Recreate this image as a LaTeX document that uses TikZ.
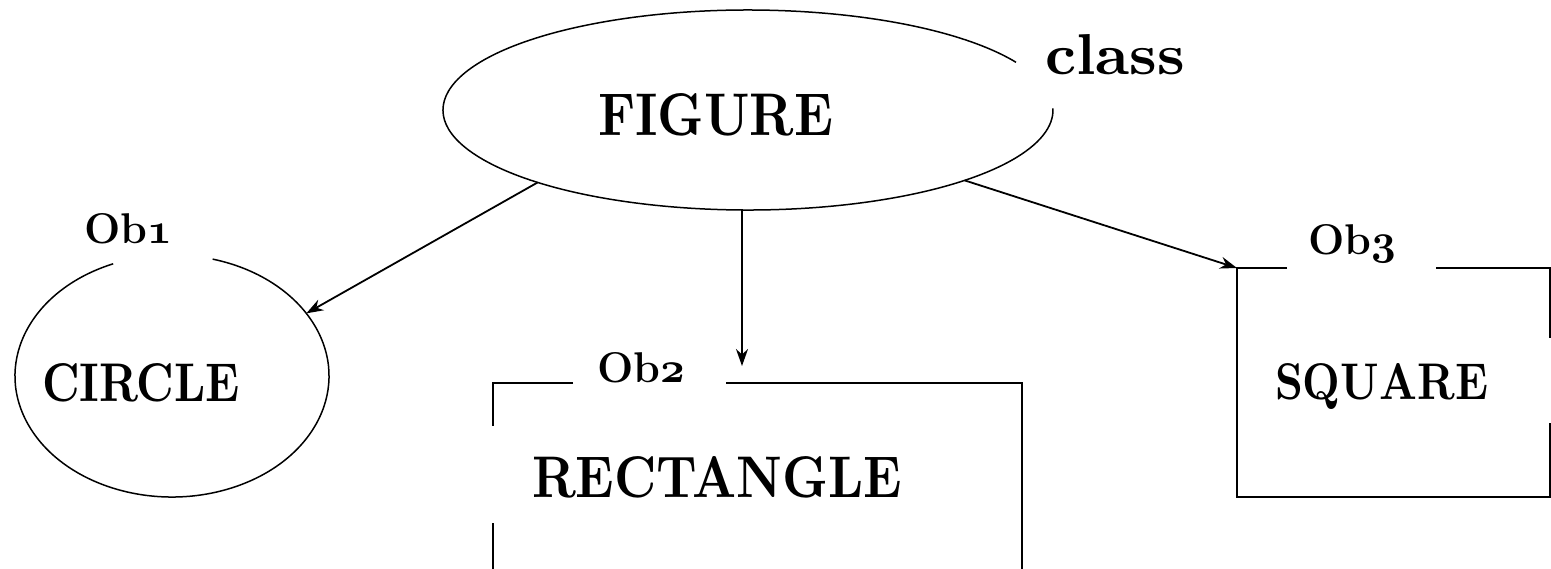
\documentclass[tikz,border=0pt]{standalone}
\usetikzlibrary{arrows.meta,shapes.geometric}
\DeclareFontFamily{OML}{myosf}{\skewchar\font127 }
\DeclareFontShape{OML}{myosf}{b}{it}{<->cmmib10}{}
\newcommand{\osdig}[1]{{\usefont{OML}{myosf}{b}{it}#1}}
\begin{document}
\begin{tikzpicture}[x=1pt,y=1pt,
  outline/.style={line width=1.5pt, draw=black},
  shapebox/.style={draw=none, inner sep=0pt, outer sep=0pt},
  lbl/.style={inner sep=0pt, outer sep=0pt, anchor=base west, font=\bfseries},
  oblbl/.style={inner sep=0pt, outer sep=0pt, anchor=base west, font=\fontsize{43}{52}\selectfont\bfseries},
  arr/.style={line width=1.8pt, -{Stealth[length=17pt,width=12pt]}}
]
\useasboundingbox (0,0) rectangle (1551,-568);
\clip (0,0) rectangle (1551,-568);

% shapes (outlines drawn separately because of the gaps)
\node[shapebox, ellipse, minimum width=610pt, minimum height=200pt] (fig) at (748,-110) {};
\node[shapebox, ellipse, minimum width=314pt, minimum height=242pt] (circ) at (172,-376) {};
\node[shapebox, rectangle, minimum width=529pt, minimum height=400pt] (rect) at (757.5,-583) {};
\node[shapebox, rectangle, minimum width=313pt, minimum height=229pt] (sq) at (1393.5,-382.5) {};

% big ellipse with gap near "class"
\draw[outline] ([shift={(28.5:305 and 100)}]fig.center) arc[start angle=28.5, end angle=361, x radius=305, y radius=100];
% circle with gap for Ob1
\draw[outline] ([shift={(112:157 and 121)}]circ.center) arc[start angle=112, end angle=435, x radius=157, y radius=121];
% rectangle with gaps
\draw[outline] ([xshift=80pt]rect.north west) -- (rect.north west) -- ([yshift=-43pt]rect.north west);
\draw[outline] ([yshift=-140pt]rect.north west) -- (rect.south west);
\draw[outline] ([xshift=233pt]rect.north west) -- (rect.north east) -- (rect.south east);
% square with gaps
\draw[outline] ([xshift=50pt]sq.north west) -- (sq.north west) -- (sq.south west) -- (sq.south east) -- ([yshift=74pt]sq.south east);
\draw[outline] ([xshift=-114pt]sq.north east) -- (sq.north east) -- ([yshift=-70pt]sq.north east);

% labels
\node[lbl] (figt) at (598,-135) {\resizebox{235pt}{42pt}{FIGURE}};
\node[lbl] (classt) at (1045,-74) {\resizebox{140pt}{40pt}{class}};
\node[lbl] (circt) at (42,-401) {\resizebox{198pt}{38pt}{CIRCLE}};
\node[lbl] (rectt) at (532,-497) {\resizebox{370pt}{41pt}{RECTANGLE}};
\node[lbl] (sqt) at (1275,-399) {\resizebox{213pt}{36pt}{SQUARE}};
\node[oblbl] (ob1) at (84,-243) {Ob\osdig{1}};
\node[oblbl] (ob2) at (597,-382) {Ob\osdig{2}};
\node[oblbl] (ob3) at (1308,-254) {Ob\osdig{3}};

% connectors
\coordinate (r2tip) at (742,-366);
\draw[arr] (fig.199.5) -- (circ.25);
\draw[arr] (fig.south -| r2tip) -- (r2tip);
\draw[arr] (fig.-18) -- (sq.north west);
\end{tikzpicture}
\end{document}
